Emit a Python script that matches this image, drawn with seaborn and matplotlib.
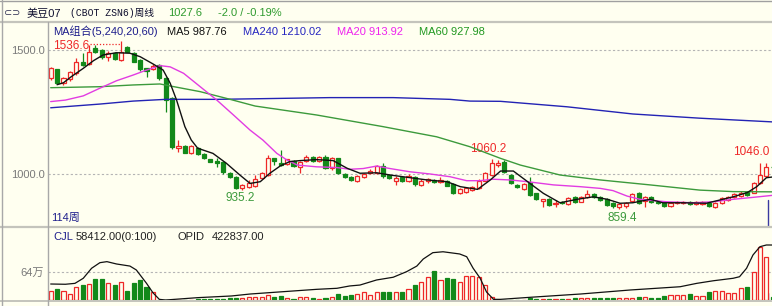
import numpy as np
import pandas as pd
import matplotlib
matplotlib.use("Agg")
import matplotlib.pyplot as plt
import seaborn as sns
from matplotlib.lines import Line2D

# ---------------- data (weekly candles, 114 weeks) ----------------
opens = [1386, 1422, 1368, 1382, 1406, 1453, 1444, 1507, 1500, 1473,
         1487, 1460, 1511, 1487, 1460, 1426, 1422, 1440, 1386, 1305,
         1103, 1113, 1086, 1103, 1081, 1059, 1054, 1050, 1005, 987,
         942, 949, 952, 983, 996, 1063, 1046, 1040, 1054, 1030,
         1054, 1070, 1054, 1070, 1023, 1063, 1000, 989, 972, 989,
         1003, 1005, 1032, 996, 972, 989, 973, 989, 956, 970,
         976, 966, 973, 960, 925, 929, 935, 942, 973, 996,
         1036, 1050, 996, 956, 940, 962, 922, 893, 898, 879,
         888, 880, 908, 889, 908, 919, 908, 898, 884, 868,
         869, 892, 922, 893, 906, 888, 882, 872, 882, 882,
         888, 879, 880, 884, 868, 882, 895, 906, 911, 929,
         925, 962, 992, 1030]
highs = [1432, 1425, 1392, 1416, 1466, 1487, 1520, 1520, 1505, 1495,
         1492, 1536.6, 1518, 1490, 1462, 1428, 1442, 1444, 1390, 1310,
         1137, 1118, 1118, 1110, 1085, 1062, 1065, 1053, 1008, 990,
         960, 975, 995, 1008, 1077, 1066, 1095, 1062, 1058, 1054,
         1078, 1074, 1072, 1076, 1068, 1066, 1003, 992, 996, 1006,
         1020, 1038, 1045, 999, 990, 993, 998, 993, 978, 985,
         980, 988, 976, 964, 942, 948, 950, 978, 1010, 1060.2,
         1058, 1056, 1000, 960, 965, 989, 925, 900, 902, 895,
         892, 906, 912, 912, 935, 925, 912, 902, 888, 882,
         888, 922, 926, 910, 910, 891, 885, 888, 892, 891,
         892, 892, 891, 888, 888, 906, 912, 923, 930, 933,
         968, 1043, 1046.0, 1034]
lows = [1380, 1362, 1359, 1376, 1400, 1436, 1440, 1488, 1462, 1455,
        1458, 1455, 1490, 1450, 1415, 1392, 1418, 1380, 1250, 1100,
        1090, 1084, 1082, 1078, 1060, 1047, 1030, 1000, 984, 938,
        935.2, 945, 948, 980, 992, 1036, 1034, 1036, 1028, 1004,
        1050, 1050, 1050, 1020, 1018, 998, 984, 970, 968, 985,
        998, 1002, 985, 980, 956, 966, 968, 952, 952, 965,
        962, 962, 950, 918, 920, 925, 930, 938, 970, 992,
        1030, 1005, 958, 943, 936, 912, 894, 868, 872, 866,
        878, 876, 885, 886, 905, 903, 892, 870, 862, 859.4,
        864, 888, 880, 868, 882, 879, 868, 868, 878, 878,
        876, 876, 877, 868, 864, 878, 892, 903, 908, 912,
        922, 958, 988, 1022]
closes = [1426, 1366, 1386, 1410, 1453, 1440, 1493, 1493, 1473, 1489,
          1462, 1493, 1493, 1453, 1422, 1417, 1435, 1386, 1298, 1110,
          1113, 1086, 1113, 1081, 1063, 1050, 1046, 1009, 987, 942,
          956, 965, 979, 1003, 1063, 1054, 1038, 1059, 1032, 1050,
          1070, 1054, 1067, 1023, 1063, 1003, 987, 975, 992, 1000,
          1012, 1032, 990, 984, 985, 970, 992, 958, 973, 978,
          966, 976, 953, 922, 938, 942, 946, 973, 1005, 1046,
          1046, 1010, 963, 947, 960, 916, 898, 898, 876, 884,
          882, 902, 889, 908, 919, 907, 896, 876, 869, 878,
          884, 919, 885, 906, 886, 882, 872, 884, 888, 887,
          879, 888, 887, 872, 884, 902, 908, 919, 925, 916,
          965, 996, 1029.6, 1027.6]
volume = [215000, 254000, 215000, 139000, 293000, 347000, 362000, 478000, 478000, 385000,
          347000, 408000, 208000, 385000, 462000, 293000, 177000, 3000, 3000, 3000,
          3000, 3000, 3000, 30000, 30000, 25000, 25000, 30000, 40000, 40000,
          55000, 62000, 62000, 77000, 115000, 77000, 92000, 54000, 23000, 62000,
          62000, 40000, 23000, 54000, 77000, 139000, 92000, 115000, 139000, 178000,
          115000, 178000, 192000, 192000, 192000, 192000, 254000, 347000, 423000, 524000,
          677000, 462000, 501000, 478000, 408000, 554000, 554000, 538000, 347000, 77000,
          3000, 3000, 3000, 5000, 10000, 40000, 15000, 15000, 20000, 15000,
          20000, 20000, 46000, 46000, 46000, 40000, 40000, 40000, 40000, 46000,
          46000, 46000, 77000, 77000, 46000, 46000, 92000, 115000, 115000, 115000,
          139000, 100000, 92000, 192000, 208000, 215000, 170000, 170000, 270000, 307000,
          654000, 1230000, 1000000, 58412]

# moving averages / open interest (week index, value)
ma5_week = [1, 2, 3.2, 5.1, 6.7, 8.2, 10.3, 12.4, 14, 16, 17.6, 18.7, 19.7, 21, 22, 23,
            25.4, 27.5, 29.6, 31.2, 32.8, 34.3, 35.9, 37.4, 39, 41.6, 44.2, 46.4, 48.4,
            51, 53.1, 55.7, 58.9, 62, 64.1, 66.8, 68.8, 70.4, 72.4, 75, 77.1, 79.7, 82.4,
            84.9, 87.1, 89.1, 91.1, 93.8, 95.8, 98.9, 102.6, 104.7, 106.8, 109, 110.5, 112, 113]
ma5_val = [1360, 1368, 1392, 1426, 1457, 1480, 1489, 1487, 1473, 1444, 1419, 1366, 1298, 1191,
           1137, 1104, 1083, 1043, 996, 962, 969, 1003, 1032, 1050, 1054, 1058, 1054, 1023,
           1003, 1005, 996, 987, 976, 969, 949, 938, 976, 1012, 1012, 962, 922, 884, 898,
           908, 898, 882, 884, 898, 884, 884, 882, 895, 908, 925, 949, 985, 988]
ma20_week = [0, 2.3, 5.1, 7.7, 10.3, 12.9, 15, 17.1, 18.7, 20.8, 23.4, 26, 28.6, 31.2, 33.2,
             35.4, 37, 38.6, 41.6, 44.8, 46.8, 48.9, 51, 53.1, 56.2, 59.4, 62.5, 65.1, 67.2,
             69.2, 71.9, 74.6, 78.7, 82.8, 86, 88, 90.2, 92.2, 96.4, 100.5, 103.7, 106.8,
             110, 113]
ma20_val = [1292, 1298, 1315, 1346, 1376, 1399, 1419, 1437, 1432, 1406, 1352, 1298, 1238,
            1177, 1137, 1083, 1056, 1036, 1029, 1026, 1019, 1022, 1032, 1022, 1009, 1000,
            989, 973, 973, 979, 976, 969, 956, 949, 942, 933, 911, 898, 888, 884, 888, 898,
            906, 914]
ma60_week = [0, 7.7, 12.9, 17.1, 19.3, 23.4, 27.5, 32, 41.6, 52, 60.4, 65.6, 70.4, 73.5,
             79.7, 86, 93.8, 101.6, 106.8, 113]
ma60_val = [1348, 1352, 1359, 1363, 1352, 1332, 1305, 1274, 1238, 1191, 1150, 1110, 1063,
            1036, 996, 976, 956, 935, 929, 928]
ma240_week = [0, 7.7, 12.9, 18, 26, 31.2, 43.7, 53.6, 62.5, 65.6, 70.4, 80.8, 91.1, 101.6, 113]
ma240_val = [1267, 1282, 1294, 1301, 1301, 1303, 1308, 1308, 1301, 1294, 1293, 1271, 1242,
             1225, 1210]
opid_week = [0, 2.3, 3.8, 5.1, 6.4, 7.7, 8.8, 10.3, 12.4, 13.4, 15, 16, 17, 18, 23, 28.3,
             31.2, 36.4, 41.6, 44.8, 46.8, 48.4, 51, 53.6, 55.7, 57.3, 58.3, 59.8, 61.4, 64,
             65.1, 66.1, 67.2, 68.2, 69.3, 70.4, 75.1, 82.9, 90.7, 98.5, 101.1, 103.7, 106.8,
             107.8, 108.9, 109.9, 111, 112, 113]
opid_val = [123000, 121000, 128000, 167000, 244000, 287000, 295000, 277000, 261000, 231000,
            128000, 56000, 5000, 0, 18000, 31000, 46000, 64000, 82000, 90000, 108000, 115000,
            154000, 175000, 218000, 261000, 315000, 364000, 371000, 354000, 333000, 245000,
            168000, 62000, 5000, 5000, 21000, 46000, 77000, 102000, 128000, 148000, 167000,
            179000, 244000, 346000, 410000, 423000, 422837]

yticks_price = [1000, 1500]
ytick_vol = [640000]
ytick_vol_label = ['64万']

# ---------------- style ----------------
sns.set_theme(style="white")
plt.rcParams['font.family'] = ['Liberation Sans', 'Noto Sans CJK SC', 'DejaVu Sans']
BG = '#FFFFF0'
RED = '#EE2828'
GREEN = '#12891A'
GRID = '#B4B4B4'
NAVY = '#1E1E8C'

W, H = 772, 306
fig = plt.figure(figsize=(W / 100, H / 100), dpi=100, facecolor=BG)


def px_axes(x0, y0, x1, y1):
    a = fig.add_axes([x0 / W, 1 - y1 / H, (x1 - x0) / W, (y1 - y0) / H])
    a.set_facecolor(BG)
    for s in a.spines.values():
        s.set_visible(False)
    return a


def ftext(x, y, s, color='black', size=8, **kw):
    fig.text(x / W, 1 - y / H, s, color=color, fontsize=size, va='center', ha='left', **kw)


def fline(xs, ys, color='#B0B0B0', lw=1.0):
    fig.add_artist(Line2D([x / W for x in xs], [1 - y / H for y in ys], color=color, lw=lw))


df = pd.DataFrame({'open': opens, 'high': highs, 'low': lows, 'close': closes, 'vol': volume})
df['week'] = np.arange(len(df))
df['up'] = df['close'] >= df['open']
df['btm'] = df[['open', 'close']].min(axis=1)
df['top'] = df[['open', 'close']].max(axis=1)
df['bh'] = (df['top'] - df['btm']).clip(lower=2.5)
df['col'] = np.where(df['up'], RED, GREEN)

XLIM = (-0.42, 112.88)

# ---------------- price panel ----------------
ax = px_axes(48, 22, 772, 226.5)
ax.set_xlim(*XLIM)
ax.set_ylim(788.3, 1612.9)
ax.set_yticks(yticks_price)
ax.set_yticklabels([f"{v:.1f}" for v in yticks_price])
ax.set_xticks([])
ax.tick_params(axis='y', length=0, pad=2, labelcolor='#7A7A7A', labelsize=8)
ax.yaxis.grid(True, linestyle=(0, (2, 2)), color=GRID, lw=0.8)
ax.set_axisbelow(True)

ax.vlines(df['week'], df['low'], df['btm'], color=df['col'], lw=0.9, zorder=2)
ax.vlines(df['week'], df['top'], df['high'], color=df['col'], lw=0.9, zorder=2)
up = df[df['up']]
dn = df[~df['up']]
ax.bar(up['week'], up['bh'], bottom=up['btm'], width=0.64, facecolor=BG, edgecolor=RED,
       linewidth=0.9, zorder=3)
ax.bar(dn['week'], dn['bh'], bottom=dn['btm'], width=0.64, facecolor=GREEN, edgecolor=GREEN,
       linewidth=0.9, zorder=3)

for wk, vals, c in [(ma240_week, ma240_val, '#2323B4'), (ma60_week, ma60_val, '#3C9A3C'),
                    (ma20_week, ma20_val, '#E23CE2'), (ma5_week, ma5_val, '#111111')]:
    sns.lineplot(x=wk, y=vals, ax=ax, color=c, linewidth=1.0, estimator=None, sort=False, zorder=4)
ax.set_xlabel('')
ax.set_ylabel('')

# extreme labels
hi1 = int(np.argmax(highs[:40]))
ax.text(hi1 - 4.9, highs[hi1] - 22, f"{highs[hi1]:.1f}", color=RED, fontsize=8.5, ha='right', va='center')
ax.hlines(highs[hi1] - 14, hi1 - 4.9, hi1, color=RED, lw=0.9, linestyles=(0, (1, 1.5)))
lo1 = int(np.argmin(lows[:50]))
ax.text(lo1 - 0.3, lows[lo1] - 8, f"{lows[lo1]:.1f}", color='#3C9A3C', fontsize=8.5, ha='center', va='top')
hi2 = 50 + int(np.argmax(highs[50:90]))
ax.text(hi2 - 0.5, highs[hi2] + 18, f"{highs[hi2]:.1f}", color=RED, fontsize=8.5, ha='center', va='bottom')
lo2 = 70 + int(np.argmin(lows[70:110]))
ax.text(lo2 + 0.4, lows[lo2] - 12, f"{lows[lo2]:.1f}", color='#3C9A3C', fontsize=8.5, ha='center', va='top')
hi3 = 100 + int(np.argmax(highs[100:113]))
ax.text(hi3 + 0.55, highs[hi3] + 18, f"{highs[hi3]:.1f}", color=RED, fontsize=8.5, ha='right', va='bottom')
ax.axvline(len(df) - 1.75, ymin=0, ymax=0.13, color='#3A3AA0', lw=1.0)

# ---------------- volume panel ----------------
axv = px_axes(48, 228, 772, 300)
axv.set_xlim(*XLIM)
axv.set_ylim(0, 1.663e6)
axv.set_yticks(ytick_vol)
axv.set_yticklabels(ytick_vol_label)
axv.set_xticks([])
axv.tick_params(axis='y', length=0, pad=3, labelcolor='#7A7A7A', labelsize=8)
axv.yaxis.grid(True, linestyle=(0, (2, 2)), color=GRID, lw=0.8)
axv.set_axisbelow(True)
axv.bar(up['week'], up['vol'], width=0.64, facecolor=BG, edgecolor=RED, linewidth=0.9, zorder=3)
axv.bar(dn['week'], dn['vol'], width=0.64, facecolor=GREEN, edgecolor=GREEN, linewidth=0.9, zorder=3)
axv.axvline(len(df) - 1.75, ymin=0, ymax=0.1, color='#3A3AA0', lw=1.0)

axo = axv.twinx()
axo.set_ylim(0, 553700)
axo.set_xlim(*XLIM)
axo.set_yticks([])
for s in axo.spines.values():
    s.set_visible(False)
sns.lineplot(x=opid_week, y=opid_val, ax=axo, color='#111111', linewidth=0.9, estimator=None, sort=False)
axo.set_xlabel('')
axo.set_ylabel('')

# ---------------- frame lines ----------------
fline([0, W], [0.7, 0.7], '#A0A0A0', 1.0)
fline([0, W], [21.5, 21.5], '#C4C4BC', 1.6)
fline([0, W], [227.2, 227.2], '#C4C4BC', 1.6)
fline([0, W], [301, 301], '#C4C4BC', 1.4)
fline([48.2, 48.2], [22, H], '#A8A8A8', 1.0)
fline([1.5, 1.5], [0, H], '#A8A8A8', 1.0)

# ---------------- texts ----------------
ftext(4, 13, '⊂⊃', '#333355', 7, family=['DejaVu Sans'])
ftext(27, 13.5, '美豆07', '#101030', 8)
ftext(70, 13.5, '(CBOT ZSN6)周线', '#101030', 7, family=['Liberation Mono', 'Noto Sans CJK SC'])
ftext(168, 13.5, '1027.6', '#2E9A2E', 8)
ftext(218, 13.5, '-2.0 / -0.19%', '#2E9A2E', 8)

ftext(53, 31.7, 'MA组合(5,240,20,60)', NAVY, 8)
ftext(167, 31.7, 'MA5 987.76', '#111111', 8)
ftext(243, 31.7, 'MA240 1210.02', '#2626C0', 8)
ftext(337, 31.7, 'MA20 913.92', '#EE22EE', 8)
ftext(419, 31.7, 'MA60 927.98', '#229922', 8)

ftext(51, 217.5, '114周', NAVY, 8)

ftext(53, 237.5, 'CJL', NAVY, 8)
ftext(76, 237.5, '58412.00(0:100)', '#222222', 8)
ftext(177, 237.5, 'OPID', '#222222', 8)
ftext(212, 237.5, '422837.00', '#222222', 8)

fig.savefig('out.png', dpi=100, facecolor=BG)
